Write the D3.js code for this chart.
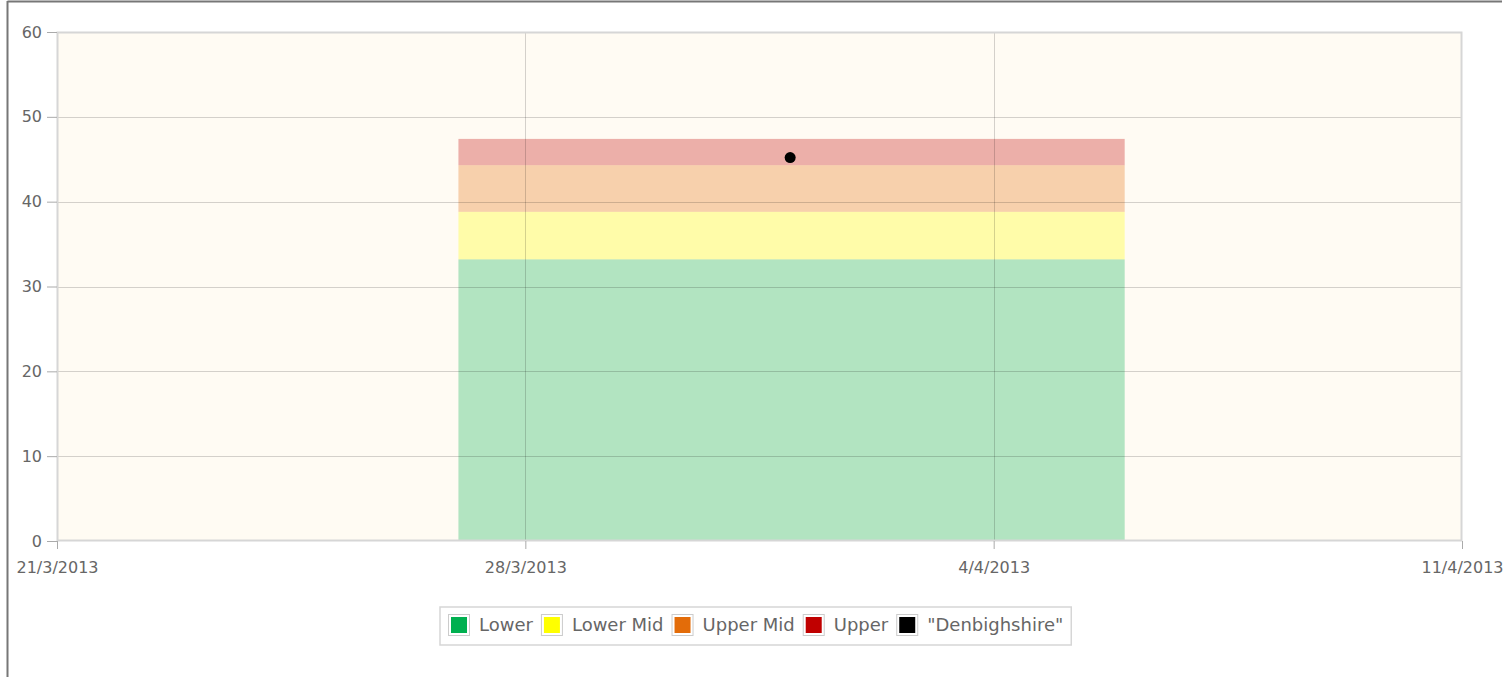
<!DOCTYPE html>
<html>
<head>
<meta charset="utf-8">
<script src="https://cdn.jsdelivr.net/npm/d3@7"></script>
<style>
  body { margin: 0; background: #fff; }
  text { font-family: "DejaVu Sans", sans-serif; fill: #666; }
</style>
</head>
<body>
<script>
// Data
const bandNames = ["Lower", "Lower Mid", "Upper Mid", "Upper"];
const bandValues = [33.2, 5.6, 5.5, 3.1];
const bandColors = ["#00b050", "#ffff00", "#e36c09", "#c00000"];
const bandStart = new Date(2013, 2, 27);
const bandEnd = new Date(2013, 3, 5, 23);
const pointName = "\"Denbighshire\"";
const pointDate = new Date(2013, 2, 31, 23);
const pointValue = 45.2;
const xTicks = [new Date(2013, 2, 21), new Date(2013, 2, 28), new Date(2013, 3, 4), new Date(2013, 3, 11)];
const yTicks = [0, 10, 20, 30, 40, 50, 60];

const width = 1506, height = 677;
const margin = {top: 32, right: 44, bottom: 136, left: 57};
const font = "\"DejaVu Sans\", sans-serif";

const svg = d3.select("body").append("svg")
    .attr("width", width)
    .attr("height", height);

// outer frame (top and left edges only)
svg.append("line").attr("x1", 7.5).attr("x2", 1502).attr("y1", 1.5).attr("y2", 1.5)
    .attr("stroke", "#777").attr("stroke-width", 2);
svg.append("line").attr("x1", 7.5).attr("x2", 7.5).attr("y1", 1).attr("y2", height)
    .attr("stroke", "#777").attr("stroke-width", 2);

const x = d3.scaleTime()
    .domain([xTicks[0], xTicks[xTicks.length - 1]])
    .range([margin.left, width - margin.right]);
const y = d3.scaleLinear()
    .domain([0, 60])
    .range([height - margin.bottom, margin.top]);

// plot background
svg.append("rect")
    .attr("x", x.range()[0]).attr("y", y(60))
    .attr("width", x.range()[1] - x.range()[0])
    .attr("height", y(0) - y(60))
    .attr("fill", "#fffbf3");

// stacked bands
let base = 0;
const stacked = bandValues.map((v, i) => {
    const d = {name: bandNames[i], y0: base, y1: base + v, color: bandColors[i]};
    base += v;
    return d;
});
svg.append("g").selectAll("rect")
    .data(stacked)
    .join("rect")
    .attr("x", x(bandStart))
    .attr("width", x(bandEnd) - x(bandStart))
    .attr("y", d => y(d.y1))
    .attr("height", d => y(d.y0) - y(d.y1))
    .attr("fill", d => d.color)
    .attr("fill-opacity", 0.3);

// grid lines
const grid = svg.append("g").attr("stroke", "#000").attr("stroke-opacity", 0.17);
grid.selectAll(".hy").data(yTicks.slice(1, -1)).join("line")
    .attr("x1", x.range()[0]).attr("x2", x.range()[1])
    .attr("y1", d => Math.round(y(d)) + 0.5).attr("y2", d => Math.round(y(d)) + 0.5);
grid.selectAll(".vx").data(xTicks.slice(1, -1)).join("line")
    .attr("y1", y(60)).attr("y2", y(0))
    .attr("x1", d => Math.round(x(d)) + 0.5).attr("x2", d => Math.round(x(d)) + 0.5);

// plot border
svg.append("rect")
    .attr("x", x.range()[0] + 0.5).attr("y", y(60) + 0.5)
    .attr("width", x.range()[1] - x.range()[0] - 1)
    .attr("height", y(0) - y(60) - 1)
    .attr("fill", "none").attr("stroke", "#d6d6d6").attr("stroke-width", 2);

// point
svg.append("circle")
    .attr("cx", x(pointDate)).attr("cy", y(pointValue))
    .attr("r", 5.5).attr("fill", "#000");

// axes
const fmt = d => `${d.getDate()}/${d.getMonth() + 1}/${d.getFullYear()}`;
const yAxis = svg.append("g")
    .attr("transform", `translate(${margin.left},0)`)
    .call(d3.axisLeft(y).tickValues(yTicks).tickSize(10).tickPadding(5));
const xAxis = svg.append("g")
    .attr("transform", `translate(0,${y(0)})`)
    .call(d3.axisBottom(x).tickValues(xTicks).tickFormat(fmt).tickSize(8).tickPadding(13));
[yAxis, xAxis].forEach(a => {
    a.select(".domain").remove();
    a.selectAll(".tick line").attr("stroke", "#aaa");
    a.selectAll("text").attr("font-size", 16).attr("fill", "#666")
        .style("font-family", font);
});

// legend
const legendItems = bandNames.map((n, i) => ({name: n, color: bandColors[i]}))
    .concat([{name: pointName, color: "#000"}]);
const legend = svg.append("g");
const legendBox = legend.append("rect")
    .attr("fill", "#fff").attr("stroke", "#d6d6d6").attr("stroke-width", 1.5);
let lx = 0;
const items = legend.selectAll("g.item").data(legendItems).join("g").attr("class", "item");
items.each(function(d) {
    const g = d3.select(this).attr("transform", `translate(${lx},0)`);
    g.append("rect").attr("x", 0.5).attr("y", 0.5).attr("width", 21).attr("height", 21)
        .attr("fill", "#fff").attr("stroke", "#ccc");
    g.append("rect").attr("x", 3).attr("y", 3).attr("width", 16).attr("height", 16)
        .attr("fill", d.color);
    const t = g.append("text").attr("x", 31).attr("y", 17).attr("font-size", 18)
        .style("font-family", font)
        .text(d.name);
    lx += 31 + t.node().getComputedTextLength() + 8;
});
const legendW = lx;
const legendX = Math.round((x.range()[0] + x.range()[1]) / 2 - legendW / 2);
legend.attr("transform", `translate(${legendX},614)`);
legendBox.attr("x", -8).attr("y", -7).attr("width", legendW + 8).attr("height", 38);
</script>
</body>
</html>
